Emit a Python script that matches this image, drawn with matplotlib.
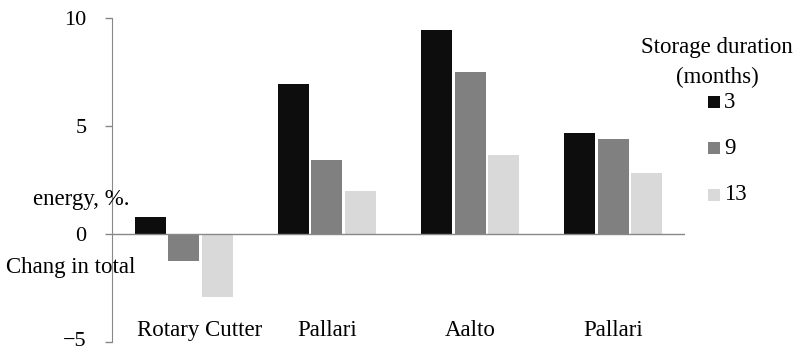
import numpy as np
import matplotlib.pyplot as plt
from matplotlib.transforms import ScaledTranslation

plt.rcParams["font.family"] = ["Liberation Serif", "DejaVu Serif"]

# Change in total energy by harvesting method and storage duration
methods = ["Rotary Cutter", "Pallari", "Aalto", "Pallari"]
durations = ["3", "9", "13"]
change_3 = [0.77, 6.93, 9.46, 4.69]
change_9 = [-1.26, 3.41, 7.50, 4.40]
change_13 = [-2.93, 2.00, 3.66, 2.82]
series = [change_3, change_9, change_13]
colors = ["#0d0d0d", "#808080", "#d9d9d9"]

fs = 16.5
fig = plt.figure(figsize=(7.98, 3.51), dpi=100)
ax = fig.add_axes([0.1404, 0.0256, 0.718, 0.9231])

x = np.arange(len(methods))
step = 0.234
width = 0.216
for i, (vals, col) in enumerate(zip(series, colors)):
    ax.bar(x + (i - 1) * step, vals, width, color=col, label=durations[i], zorder=2)

ax.set_xlim(-0.5, len(methods) - 0.5)
ax.set_ylim(-5, 10)
ax.set_yticks([-5, 0, 5, 10])
ax.set_yticklabels(["\u22125", "0", "5", "10"])
tick_len, tick_pad = 5, 13.5
ax.tick_params(axis="y", length=tick_len, width=1, color="#888888", pad=tick_pad, labelsize=16)
# lift the bottom label a little so it stays inside the figure
ax.get_yticklabels()[0].set_transform(
    ax.get_yaxis_text1_transform(tick_len + tick_pad)[0]
    + ScaledTranslation(0, 3 / 100, fig.dpi_scale_trans))
ax.set_xticks([])

for side in ("top", "right", "bottom"):
    ax.spines[side].set_visible(False)
ax.spines["left"].set_color("#888888")
ax.axhline(0, color="#888888", linewidth=1, zorder=3)

# category names sit near the bottom of the plot
for xi, name in zip(x, methods):
    t = ax.text(xi, -4.45, name, ha="center", va="center", fontsize=fs)
    if xi == 0:
        t.set_transform(ax.transData + ScaledTranslation(16 / 100, 0, fig.dpi_scale_trans))

# axis caption split around the zero line
fig.text(33 / 798, 1 - 200 / 351, "energy, %.", ha="left", va="center", fontsize=fs)
fig.text(6 / 798, 1 - 267 / 351, "Chang in total", ha="left", va="center", fontsize=fs)

# legend: title and entries placed by hand
fig.text(717 / 798, 1 - 48 / 351, "Storage duration", ha="center", va="center", fontsize=fs)
fig.text(717 / 798, 1 - 77 / 351, "(months)", ha="center", va="center", fontsize=fs)
entry_y = [102, 148, 195]
for lab, col, yy in zip(durations, colors, entry_y):
    fig.patches.append(plt.Rectangle((708 / 798, 1 - (yy + 6) / 351), 12 / 798, 12 / 351,
                                     transform=fig.transFigure, facecolor=col, edgecolor="none"))
    fig.text(724 / 798, 1 - yy / 351, lab, ha="left", va="center", fontsize=fs)

fig.savefig("out.png", dpi=100)
